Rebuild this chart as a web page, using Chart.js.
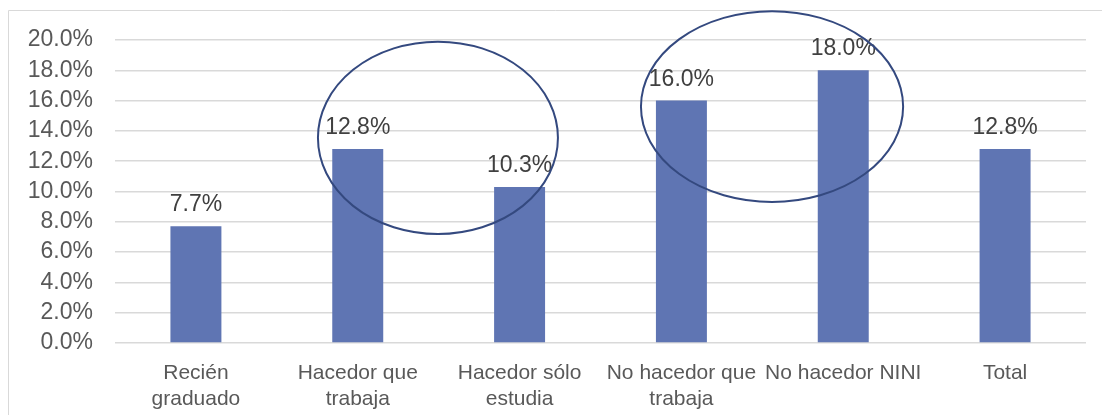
<!doctype html>
<html>
<head>
<meta charset="utf-8">
<title>Hacedores</title>
<script src="https://cdn.jsdelivr.net/npm/chart.js@4.4.1/dist/chart.umd.min.js"></script>
<style>
	body { margin: 0; background: #fff; }
	canvas { display: block; }
</style>
</head>
<body>
<canvas id="canvas" width="1102" height="415"></canvas>
<script>
	// categories, wrapped the way the original wraps them
	var categories = [
		['Recién', 'graduado'],
		['Hacedor que', 'trabaja'],
		['Hacedor sólo', 'estudia'],
		['No hacedor que', 'trabaja'],
		'No hacedor NINI',
		'Total'
	];
	var values = [7.7, 12.8, 10.3, 16.0, 18.0, 12.8];
	var yTicks = [0, 2, 4, 6, 8, 10, 12, 14, 16, 18, 20];

	// hand-drawn circles, in category index / value units
	var circleX = [[0.754, 2.237], [2.75, 4.37]];
	var circleY = [[7.19, 19.89], [9.31, 21.9]];

	var FONT = "'Liberation Sans', Arial, sans-serif";

	var frame = {
		id: 'frame',
		beforeDraw: function(chart) {
			var c = chart.ctx;
			c.save();
			c.strokeStyle = '#d9d9d9';
			c.lineWidth = 1;
			c.beginPath();
			c.moveTo(8.5, chart.height);
			c.lineTo(8.5, 10.5);
			c.lineTo(chart.width, 10.5);
			c.stroke();
			c.restore();
		}
	};

	var valueLabels = {
		id: 'valueLabels',
		afterDatasetsDraw: function(chart) {
			var c = chart.ctx;
			var meta = chart.getDatasetMeta(0);
			c.save();
			c.font = '23px ' + FONT;
			c.fillStyle = '#404040';
			c.textAlign = 'center';
			c.textBaseline = 'alphabetic';
			meta.data.forEach(function(bar, i) {
				c.fillText(values[i].toFixed(1) + '%', bar.x, bar.y - 15);
			});
			c.restore();
		}
	};

	var circles = {
		id: 'circles',
		afterDraw: function(chart) {
			var c = chart.ctx;
			var xs = chart.scales.x, ys = chart.scales.y;
			var step = xs.getPixelForValue(1) - xs.getPixelForValue(0);
			c.save();
			c.strokeStyle = '#34497f';
			c.lineWidth = 2;
			circleX.forEach(function(xr, i) {
				var x0 = xs.getPixelForValue(0) + xr[0] * step;
				var x1 = xs.getPixelForValue(0) + xr[1] * step;
				var y0 = ys.getPixelForValue(circleY[i][1]);
				var y1 = ys.getPixelForValue(circleY[i][0]);
				c.beginPath();
				c.ellipse((x0 + x1) / 2, (y0 + y1) / 2, (x1 - x0) / 2, (y1 - y0) / 2, 0, 0, Math.PI * 2);
				c.stroke();
			});
			c.restore();
		}
	};

	var config = {
		type: 'bar',
		data: {
			labels: categories,
			datasets: [{
				data: values,
				backgroundColor: '#5f75b3',
				categoryPercentage: 1,
				barPercentage: 0.315
			}]
		},
		options: {
			responsive: false,
			animation: false,
			layout: { padding: { top: 40, right: 16, left: 0, bottom: 0 } },
			plugins: {
				legend: { display: false },
				tooltip: { enabled: false }
			},
			scales: {
				x: {
					grid: { display: false },
					border: { display: false },
					afterFit: function(scale) { scale.height = 72; },
					ticks: {
						autoSkip: false,
						maxRotation: 0,
						padding: 10,
						color: '#595959',
						font: { family: FONT, size: 21, lineHeight: 1.2 }
					}
				},
				y: {
					min: 0,
					max: 20,
					afterFit: function(scale) { scale.width = 115; },
					afterBuildTicks: function(scale) {
						scale.ticks = yTicks.map(function(v) { return { value: v }; });
					},
					border: { display: false },
					grid: { color: '#d9d9d9', lineWidth: 1.5, drawTicks: false },
					ticks: {
						autoSkip: false,
						padding: 22,
						color: '#595959',
						font: { family: FONT, size: 23 },
						callback: function(v) { return v.toFixed(1) + '%'; }
					}
				}
			}
		},
		plugins: [frame, valueLabels, circles]
	};

	window.onload = function() {
		var ctx = document.getElementById('canvas').getContext('2d');
		window.myBar = new Chart(ctx, config);
	};
</script>
</body>
</html>
